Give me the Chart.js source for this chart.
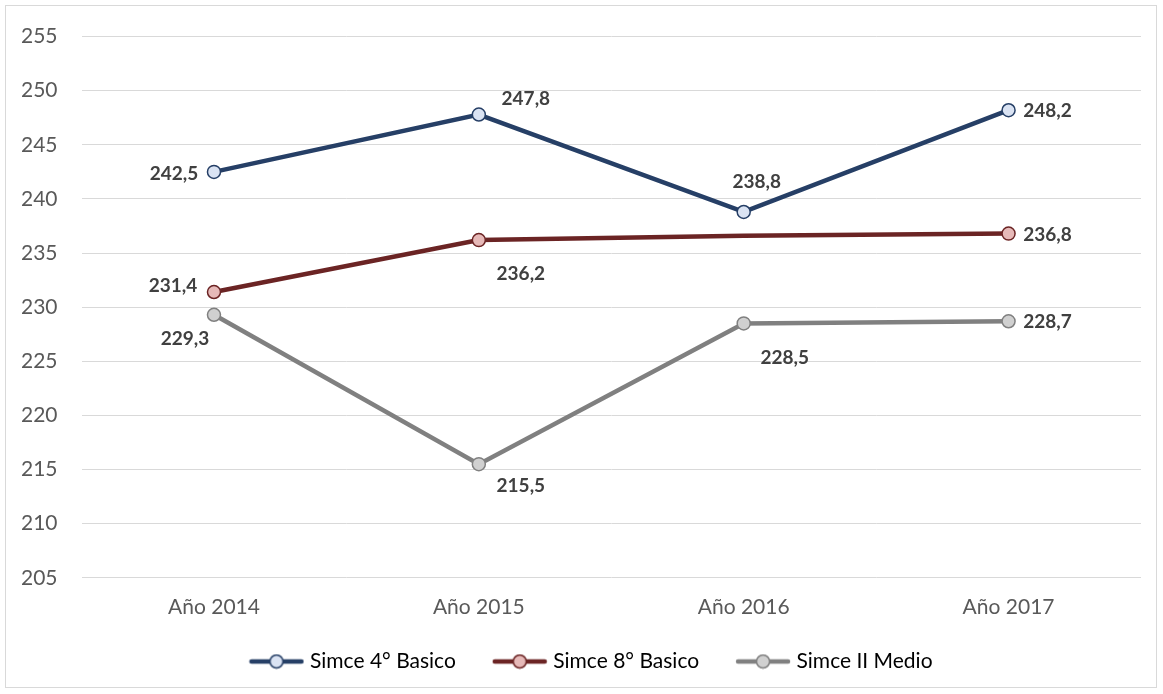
<!DOCTYPE html>
<html><head><meta charset="utf-8">
<script src="https://cdn.jsdelivr.net/npm/chart.js@4/dist/chart.umd.min.js"></script>
<style>
html,body{margin:0;padding:0;background:#fff;}
#wrap{position:absolute;left:5px;top:5px;width:1152px;height:683px;border:1px solid #d9d9d9;box-sizing:border-box;}
canvas{position:absolute;left:0;top:0;}
</style></head>
<body>
<div id="wrap"></div>
<canvas id="c" width="1163" height="694"></canvas>
<script>
const categories = ["Año 2014", "Año 2015", "Año 2016", "Año 2017"];
const seriesNames = ["Simce 4° Basico", "Simce 8° Basico", "Simce II Medio"];
const basico4 = [242.5, 247.8, 238.8, 248.2];
const basico8 = [231.4, 236.2, 236.6, 236.8];
const medio2 = [229.3, 215.5, 228.5, 228.7];
const shown8 = [true, true, false, true];
const yMin = 205, yMax = 255, yStep = 5;

const lineColors = ["#263F66", "#6B2424", "#808080"];
const fillColors = ["#DAE3F3", "#E6B9B8", "#D0D0D0"];
const FONT = 'Lato, "Liberation Sans", sans-serif';
// label offsets (dx, dy) relative to point, per series/point
const labelOffsets = [
  [[-40, 2], [47, -16], [13, -30], [39, 1]],
  [[-41, -6], [42, 34], null, [39, 1]],
  [[-29, 24], [42, 22], [41, 34], [39, 1]]
];
const legendGap = '     ';
const legendShift = 24;

function legendIcon(line, fill) {
  const c = document.createElement('canvas');
  c.width = 56; c.height = 16;
  const x = c.getContext('2d');
  x.strokeStyle = line; x.lineWidth = 4.5; x.lineCap = 'round';
  x.beginPath(); x.moveTo(3, 8); x.lineTo(53, 8); x.stroke();
  x.beginPath(); x.arc(28, 8, 6.5, 0, Math.PI * 2);
  x.fillStyle = fill; x.fill(); x.lineWidth = 1.5; x.stroke();
  return c;
}

const valuesList = [basico4, basico8, medio2];
const datasets = valuesList.map((vals, i) => ({
  label: seriesNames[i],
  data: vals,
  borderColor: lineColors[i],
  backgroundColor: fillColors[i],
  pointBackgroundColor: fillColors[i],
  pointBorderColor: lineColors[i],
  pointBorderWidth: 1.5,
  pointRadius: i === 1 ? shown8.map(s => s ? 6.5 : 0) : 6.5,
  borderWidth: 4.5,
  tension: 0,
  pointStyle: 'circle',
  _icon: legendIcon(lineColors[i], fillColors[i])
}));

const labelPlugin = {
  id: 'valueLabels',
  afterLayout(chart) {
    if (chart.legend) { chart.legend.left += legendShift; chart.legend.right += legendShift; }
  },
  afterDatasetsDraw(chart) {
    const ctx = chart.ctx;
    ctx.save();
    ctx.font = 'bold 19px ' + FONT;
    ctx.fillStyle = '#404040';
    ctx.textAlign = 'center';
    ctx.textBaseline = 'middle';
    chart.data.datasets.forEach((ds, di) => {
      const meta = chart.getDatasetMeta(di);
      meta.data.forEach((pt, pi) => {
        const off = labelOffsets[di][pi];
        if (!off) return;
        const txt = ds.data[pi].toFixed(1).replace('.', ',');
        ctx.fillText(txt, pt.x + off[0], pt.y + off[1]);
      });
    });
    ctx.restore();
  }
};

new Chart(document.getElementById('c'), {
  type: 'line',
  data: { labels: categories, datasets },
  plugins: [labelPlugin],
  options: {
    responsive: false,
    animation: false,
    layout: { padding: { left: -3, right: 22, top: 25, bottom: 12 } },
    plugins: {
      legend: {
        position: 'bottom',
        labels: {
          usePointStyle: true,
          pointStyleWidth: 46,
          font: { size: 21, family: FONT },
          color: '#595959',
          padding: 14,
          generateLabels(chart) {
            const n = chart.data.datasets.length;
            return chart.data.datasets.map((d, i) => ({
              text: d.label + (i < n - 1 ? legendGap : ''),
              pointStyle: d._icon,
              fillStyle: d.backgroundColor,
              strokeStyle: d.borderColor,
              lineWidth: 0,
              datasetIndex: i,
              hidden: false
            }));
          }
        }
      },
      tooltip: { enabled: false }
    },
    scales: {
      x: {
        offset: true,
        grid: { display: false, drawTicks: false },
        border: { display: false },
        ticks: { color: '#595959', font: { size: 21, family: FONT }, padding: 17 }
      },
      y: {
        min: yMin, max: yMax,
        ticks: { stepSize: yStep, color: '#595959', font: { size: 21, family: FONT }, padding: 24 },
        grid: { color: '#d9d9d9', lineWidth: 1, drawTicks: false },
        border: { display: false }
      }
    }
  }
});
</script>
</body></html>
